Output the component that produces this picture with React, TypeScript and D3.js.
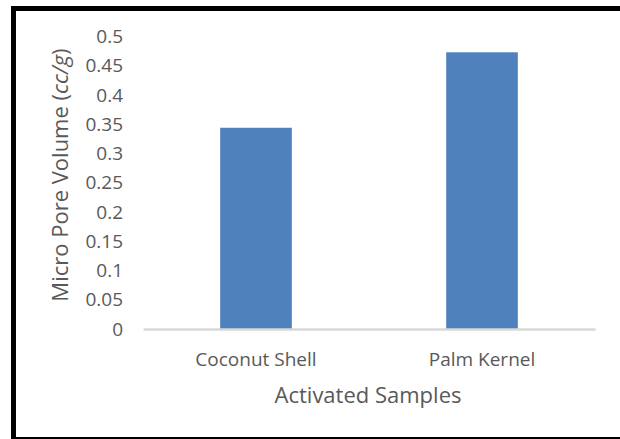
import React, { useEffect, useRef } from "react";
import * as d3 from "d3";

// Micro pore volume of activated carbon samples
const categories: string[] = ["Coconut Shell", "Palm Kernel"];
const microPoreVolume: number[] = [0.344, 0.473];
const yTicks: number[] = [0, 0.05, 0.1, 0.15, 0.2, 0.25, 0.3, 0.35, 0.4, 0.45, 0.5];
const xTitle = "Activated Samples";

const W = 620;
const H = 439;
const FONT = "'Open Sans', 'Noto Sans', sans-serif";
const TEXT = "#595959";
const BAR = "#4f81bd";

export default function App() {
  const ref = useRef<SVGSVGElement | null>(null);

  useEffect(() => {
    const svg = d3.select(ref.current);
    svg.selectAll("*").remove();

    const x = d3.scaleBand<string>().domain(categories).range([143, 595]).padding(0);
    const y = d3.scaleLinear().domain([0, 0.5]).range([329, 36.5]);
    const barW = x.bandwidth() * 0.317;

    svg.append("rect").attr("width", W).attr("height", H).attr("fill", "#fff");

    // frame
    svg.append("rect").attr("x", 11).attr("y", 6).attr("width", W - 11).attr("height", 5).attr("fill", "#000");
    svg.append("rect").attr("x", 11).attr("y", 6).attr("width", 5).attr("height", H - 6).attr("fill", "#000");
    svg.append("rect").attr("x", 11).attr("y", 437).attr("width", W - 11).attr("height", 2).attr("fill", "#000");

    // bars
    svg
      .append("g")
      .selectAll("rect")
      .data(categories)
      .join("rect")
      .attr("x", (c) => (x(c) as number) + (x.bandwidth() - barW) / 2)
      .attr("width", barW)
      .attr("y", (_c, i) => y(microPoreVolume[i]))
      .attr("height", (_c, i) => y(0) - y(microPoreVolume[i]))
      .attr("fill", BAR);

    // y axis
    const gy = svg
      .append("g")
      .attr("transform", "translate(143,0)")
      .call(
        d3
          .axisLeft(y)
          .tickValues(yTicks)
          .tickSize(0)
          .tickPadding(20)
          .tickFormat((d) => String(+d))
      );
    gy.select(".domain").remove();
    gy.selectAll("text")
      .attr("font-family", FONT)
      .attr("font-size", 19)
      .attr("fill", TEXT);

    // x axis
    const gx = svg
      .append("g")
      .attr("transform", `translate(0,${y(0)})`)
      .call(d3.axisBottom(x).tickSize(0).tickSizeOuter(0).tickPadding(23.5));
    gx.select(".domain").attr("stroke", "#d9d9d9").attr("stroke-width", 2.5);
    gx.selectAll("text")
      .attr("font-family", FONT)
      .attr("font-size", 19)
      .attr("fill", TEXT);

    // axis titles
    svg
      .append("text")
      .attr("x", 368)
      .attr("y", 403)
      .attr("text-anchor", "middle")
      .attr("font-family", FONT)
      .attr("font-size", 22)
      .attr("fill", TEXT)
      .text(xTitle);

    const yt = svg
      .append("text")
      .attr("transform", "translate(68,175) rotate(-90)")
      .attr("text-anchor", "middle")
      .attr("font-family", FONT)
      .attr("font-size", 22)
      .attr("fill", TEXT);
    yt.append("tspan").text("Micro Pore Volume (");
    yt.append("tspan").attr("font-style", "italic").text("cc/g");
    yt.append("tspan").text(")");
  }, []);

  return (
    <svg
      ref={ref}
      width={W}
      height={H}
      style={{ position: "absolute", left: 0, top: 0, display: "block" }}
    />
  );
}
